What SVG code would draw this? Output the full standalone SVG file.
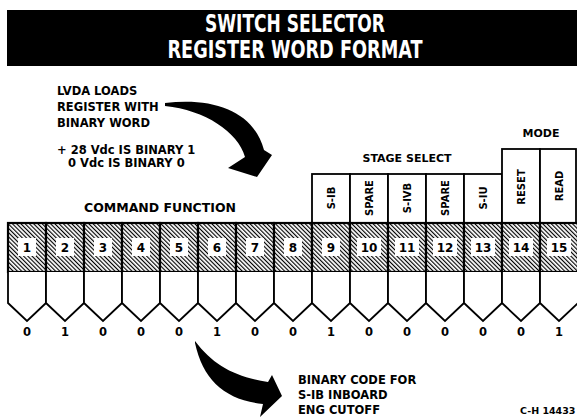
<svg xmlns="http://www.w3.org/2000/svg" width="577" height="419" viewBox="0 0 577 419">
<defs>
<pattern id="hatch" width="3" height="3" patternUnits="userSpaceOnUse" patternTransform="rotate(-45)">
<rect width="3" height="3" fill="#fff"/>
<line x1="0.5" y1="0" x2="0.5" y2="3" stroke="#000" stroke-width="1.3"/>
</pattern>
<style>
.t{font-family:"DejaVu Sans",Verdana,sans-serif;font-weight:bold;font-size:11.5px;fill:#000}
.lab{font-family:"DejaVu Sans",Verdana,sans-serif;font-weight:bold;font-size:11px;fill:#000}
.title{font-family:"DejaVu Sans Condensed","Liberation Sans Narrow",sans-serif;font-weight:bold;font-size:24px;fill:#fff;text-anchor:middle}
.num{font-family:"DejaVu Sans",Verdana,sans-serif;font-weight:bold;font-size:12px;text-anchor:middle}
.dig{font-family:"DejaVu Sans",Verdana,sans-serif;font-weight:bold;font-size:11.5px;text-anchor:middle}
.vl{font-family:"DejaVu Sans",Verdana,sans-serif;font-weight:bold;font-size:10px;text-anchor:middle}
.hat{fill:url(#hatch);stroke:#000;stroke-width:2.2}
.box{fill:#fff;stroke:none}
.pent{fill:#fff;stroke:#000;stroke-width:1.8;stroke-linejoin:miter}
.lbl{fill:#fff;stroke:#000;stroke-width:1.8}
</style>
</defs>
<rect width="577" height="419" fill="#fff"/>

<g id="title">
<rect x="7" y="10" width="570" height="56" fill="#000"/>
<text class="title" x="295" y="32" textLength="180" lengthAdjust="spacingAndGlyphs">SWITCH SELECTOR</text>
<text class="title" x="295" y="58" textLength="255" lengthAdjust="spacingAndGlyphs">REGISTER WORD FORMAT</text>
</g>

<g id="note-lvda">
<text class="t" x="57" y="95">LVDA LOADS</text>
<text class="t" x="57" y="111">REGISTER WITH</text>
<text class="t" x="57" y="127">BINARY WORD</text>
<text class="t" x="57" y="154">+ 28 Vdc IS BINARY 1</text>
<text class="t" x="68" y="167">0 Vdc IS BINARY 0</text>
</g>

<g id="labels">
<text class="lab" x="160" y="212" text-anchor="middle" style="font-size:12px" textLength="152" lengthAdjust="spacingAndGlyphs">COMMAND FUNCTION</text>
<text class="lab" x="407" y="162" text-anchor="middle">STAGE SELECT</text>
<text class="lab" x="541" y="137" text-anchor="middle">MODE</text>
</g>

<g id="stage-select">
<rect class="lbl" x="312" y="174" width="38" height="49"/>
<rect class="lbl" x="350" y="174" width="38" height="49"/>
<rect class="lbl" x="388" y="174" width="38" height="49"/>
<rect class="lbl" x="426" y="174" width="38" height="49"/>
<rect class="lbl" x="464" y="174" width="38" height="49"/>
<text class="vl" transform="translate(335,198) rotate(-90)">S-IB</text>
<text class="vl" transform="translate(373,198) rotate(-90)">SPARE</text>
<text class="vl" transform="translate(411,198) rotate(-90)">S-IVB</text>
<text class="vl" transform="translate(449,198) rotate(-90)">SPARE</text>
<text class="vl" transform="translate(487,198) rotate(-90)">S-IU</text>
</g>

<g id="mode">
<rect class="lbl" x="502" y="149" width="38" height="74"/>
<rect class="lbl" x="540" y="149" width="36" height="74"/>
<text class="vl" transform="translate(525,187) rotate(-90)">RESET</text>
<text class="vl" transform="translate(563,186) rotate(-90)">READ</text>
</g>

<g id="bit1"><rect class="hat" x="8" y="223" width="38" height="49"/><rect class="box" x="18" y="238" width="18" height="18"/><text class="num" x="27" y="252">1</text><path class="pent" d="M8,272V303L27,321L46,303V272"/><text class="dig" x="27" y="336">0</text></g>
<g id="bit2"><rect class="hat" x="46" y="223" width="38" height="49"/><rect class="box" x="56" y="238" width="18" height="18"/><text class="num" x="65" y="252">2</text><path class="pent" d="M46,272V303L65,321L84,303V272"/><text class="dig" x="65" y="336">1</text></g>
<g id="bit3"><rect class="hat" x="84" y="223" width="38" height="49"/><rect class="box" x="94" y="238" width="18" height="18"/><text class="num" x="103" y="252">3</text><path class="pent" d="M84,272V303L103,321L122,303V272"/><text class="dig" x="103" y="336">0</text></g>
<g id="bit4"><rect class="hat" x="122" y="223" width="38" height="49"/><rect class="box" x="132" y="238" width="18" height="18"/><text class="num" x="141" y="252">4</text><path class="pent" d="M122,272V303L141,321L160,303V272"/><text class="dig" x="141" y="336">0</text></g>
<g id="bit5"><rect class="hat" x="160" y="223" width="38" height="49"/><rect class="box" x="170" y="238" width="18" height="18"/><text class="num" x="179" y="252">5</text><path class="pent" d="M160,272V303L179,321L198,303V272"/><text class="dig" x="179" y="336">0</text></g>
<g id="bit6"><rect class="hat" x="198" y="223" width="38" height="49"/><rect class="box" x="208" y="238" width="18" height="18"/><text class="num" x="217" y="252">6</text><path class="pent" d="M198,272V303L217,321L236,303V272"/><text class="dig" x="217" y="336">1</text></g>
<g id="bit7"><rect class="hat" x="236" y="223" width="38" height="49"/><rect class="box" x="246" y="238" width="18" height="18"/><text class="num" x="255" y="252">7</text><path class="pent" d="M236,272V303L255,321L274,303V272"/><text class="dig" x="255" y="336">0</text></g>
<g id="bit8"><rect class="hat" x="274" y="223" width="38" height="49"/><rect class="box" x="284" y="238" width="18" height="18"/><text class="num" x="293" y="252">8</text><path class="pent" d="M274,272V303L293,321L312,303V272"/><text class="dig" x="293" y="336">0</text></g>
<g id="bit9"><rect class="hat" x="312" y="223" width="38" height="49"/><rect class="box" x="322" y="238" width="18" height="18"/><text class="num" x="331" y="252">9</text><path class="pent" d="M312,272V303L331,321L350,303V272"/><text class="dig" x="331" y="336">1</text></g>
<g id="bit10"><rect class="hat" x="350" y="223" width="38" height="49"/><rect class="box" x="357" y="238" width="24" height="18"/><text class="num" x="369" y="252">10</text><path class="pent" d="M350,272V303L369,321L388,303V272"/><text class="dig" x="369" y="336">0</text></g>
<g id="bit11"><rect class="hat" x="388" y="223" width="38" height="49"/><rect class="box" x="395" y="238" width="24" height="18"/><text class="num" x="407" y="252">11</text><path class="pent" d="M388,272V303L407,321L426,303V272"/><text class="dig" x="407" y="336">0</text></g>
<g id="bit12"><rect class="hat" x="426" y="223" width="38" height="49"/><rect class="box" x="433" y="238" width="24" height="18"/><text class="num" x="445" y="252">12</text><path class="pent" d="M426,272V303L445,321L464,303V272"/><text class="dig" x="445" y="336">0</text></g>
<g id="bit13"><rect class="hat" x="464" y="223" width="38" height="49"/><rect class="box" x="471" y="238" width="24" height="18"/><text class="num" x="483" y="252">13</text><path class="pent" d="M464,272V303L483,321L502,303V272"/><text class="dig" x="483" y="336">0</text></g>
<g id="bit14"><rect class="hat" x="502" y="223" width="38" height="49"/><rect class="box" x="509" y="238" width="24" height="18"/><text class="num" x="521" y="252">14</text><path class="pent" d="M502,272V303L521,321L540,303V272"/><text class="dig" x="521" y="336">0</text></g>
<g id="bit15"><rect class="hat" x="540" y="223" width="38" height="49"/><rect class="box" x="547" y="238" width="24" height="18"/><text class="num" x="559" y="252">15</text><path class="pent" d="M540,272V303L559,321L578,303V272"/><text class="dig" x="559" y="336">1</text></g>

<g id="note-binary">
<text class="t" x="298" y="384">BINARY CODE FOR</text>
<text class="t" x="298" y="399">S-IB INBOARD</text>
<text class="t" x="298" y="414">ENG CUTOFF</text>
<text class="t" x="520" y="414" style="font-size:9.5px">C-H 14433</text>
</g>

<g id="connectors" fill="#000">
<path d="M165,103 C215,97 254,112 264,150 L272,155 L257,177 L228,168 L245,157 C238,132 205,110 165,106 Z"/>
<path d="M195,341 C213,365 235,377 268,382 L272,375 L282,396 L260,417 L263,404 C225,400 203,380 195,343 Z"/>
</g>
</svg>
